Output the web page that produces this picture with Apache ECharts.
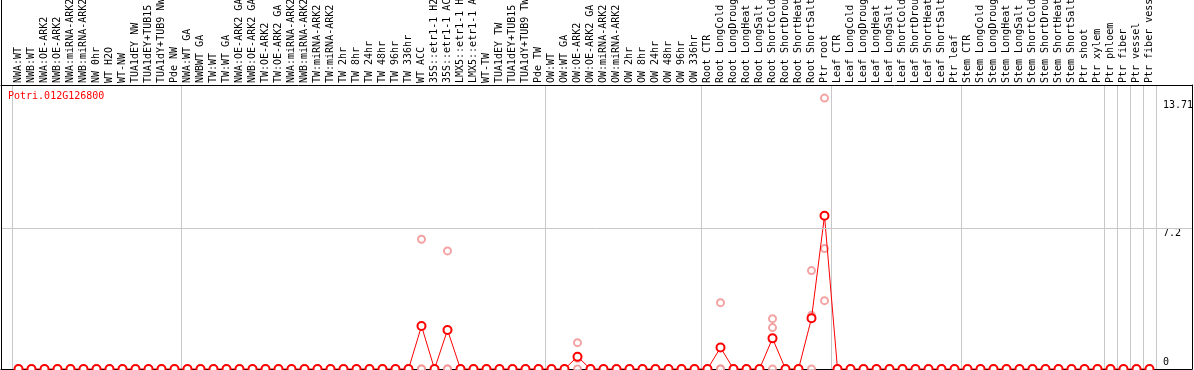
<!DOCTYPE html>
<html>
<head>
<meta charset="utf-8">
<script src="https://cdn.jsdelivr.net/npm/echarts@6/dist/echarts.min.js"></script>
<style>
html,body{margin:0;padding:0;background:#fff;}
#chart{width:1194px;height:370px;}
</style>
</head>
<body>
<div id="chart"></div>
<script>
const geneTitle = 'Potri.012G126800';

const categories = [
  'NWA:WT','NWB:WT','NWA:OE-ARK2','NWB:OE-ARK2','NWA:miRNA-ARK2','NWB:miRNA-ARK2','NW 0hr','WT H2O','WT-NW','TUA1dEY NW','TUA1dEY+TUB15 NW','TUA1dY+TUB9 NW','Pde NW',
  'NWA:WT GA','NWBWT GA','TW:WT','TW:WT GA','NWA:OE-ARK2 GA','NWB:OE-ARK2 GA','TW:OE-ARK2','TW:OE-ARK2 GA','NWA:miRNA-ARK2 GA','NWB:miRNA-ARK2 GA','TW:miRNA-ARK2','TW:miRNA-ARK2','TW 2hr','TW 8hr','TW 24hr','TW 48hr','TW 96hr','TW 336hr','WT ACC','35S::etr1-1 H2O','35S::etr1-1 ACC','LMX5::etr1-1 H2O','LMX5::etr1-1 ACC','WT-TW','TUA1dEY TW','TUA1dEY+TUB15 TW','TUA1dY+TUB9 TW','Pde TW',
  'OW:WT','OW:WT GA','OW:OE-ARK2','OW:OE-ARK2 GA','OW:miRNA-ARK2','OW:miRNA-ARK2','OW 2hr','OW 8hr','OW 24hr','OW 48hr','OW 96hr','OW 336hr',
  'Root CTR','Root LongCold','Root LongDrought','Root LongHeat','Root LongSalt','Root ShortCold','Root ShortDrought','Root ShortHeat','Root ShortSalt','Ptr root',
  'Leaf CTR','Leaf LongCold','Leaf LongDrought','Leaf LongHeat','Leaf LongSalt','Leaf ShortCold','Leaf ShortDrought','Leaf ShortHeat','Leaf ShortSalt','Ptr leaf',
  'Stem CTR','Stem LongCold','Stem LongDrought','Stem LongHeat','Stem LongSalt','Stem ShortCold','Stem ShortDrought','Stem ShortHeat','Stem ShortSalt','Ptr shoot','Ptr xylem',
  'Ptr phloem','Ptr fiber','Ptr vessel','Ptr fiber vessel'
];

// category index where each group starts (dividers)
const groupBoundaries = [0, 13, 41, 53, 63, 73, 84, 85, 86, 87];

const meanValues = [
  0,0,0,0,0,0,0,0,0,0,0,0,0,
  0,0,0,0,0,0,0,0,0,0, 0,0,0,0,0,0,0,0,2.2,0, 2.0,0,0,0,0,0,0,0,
  0,0,0.63,0,0,0,0,0,0,0,0,0,
  0,1.1,0,0,0,1.57,0,0,2.6,7.85,
  0,0,0,0,0,0,0,0,0,0,
  0,0,0,0,0,0,0,0,0,0,0,
  0,0,0,0
];
const rep1 = [
  0,0,0,0,0,0,0,0,0,0,0,0,0,
  0,0,0,0,0,0,0,0,0,0, 0,0,0,0,0,0,0,0,6.65,0, 6.05,0,0,0,0,0,0,0,
  0,0,1.35,0,0,0,0,0,0,0,0,0,
  0,3.4,0,0,0,2.58,0,0,5.04,13.88,
  0,0,0,0,0,0,0,0,0,0,
  0,0,0,0,0,0,0,0,0,0,0,
  0,0,0,0
];
const rep2 = [
  0,0,0,0,0,0,0,0,0,0,0,0,0,
  0,0,0,0,0,0,0,0,0,0, 0,0,0,0,0,0,0,0,0,0, 0,0,0,0,0,0,0,0,
  0,0,0.55,0,0,0,0,0,0,0,0,0,
  0,0,0,0,0,2.12,0,0,2.75,6.17,
  0,0,0,0,0,0,0,0,0,0,
  0,0,0,0,0,0,0,0,0,0,0,
  0,0,0,0
];
const rep3 = [
  0,0,0,0,0,0,0,0,0,0,0,0,0,
  0,0,0,0,0,0,0,0,0,0, 0,0,0,0,0,0,0,0,0,0, 0,0,0,0,0,0,0,0,
  0,0,0,0,0,0,0,0,0,0,0,0,
  0,0,0,0,0,0,0,0,0,3.5,
  0,0,0,0,0,0,0,0,0,0,
  0,0,0,0,0,0,0,0,0,0,0,
  0,0,0,0
];

const yTickValues = [0, 7.2, 13.71];
const yGridValue = 7.2;
const yMax = 14.55;

const FONT = 'DejaVu Sans Mono';
const dividerSet = new Set(groupBoundaries);
const dividerFn = function (idx) { return dividerSet.has(idx); };

const repData = [];
[rep1, rep2, rep3].forEach(function (arr) {
  arr.forEach(function (v, i) { repData.push([i, v]); });
});

const chart = echarts.init(document.getElementById('chart'), null, {renderer: 'canvas'});
chart.setOption({
  backgroundColor: '#ffffff',
  animation: false,
  title: {
    text: geneTitle, left: 8, top: 91, padding: 0,
    textStyle: {color: '#ff0000', fontSize: 10, fontFamily: FONT, fontWeight: 'normal'}
  },
  graphic: [
    {type: 'line', silent: true, z: 10,
     shape: {x1: 1.5, y1: 0, x2: 1.5, y2: 370},
     style: {stroke: '#000', lineWidth: 1}}
  ],
  grid: [
    {left: 1, right: 2, top: 85, bottom: 1, outerBoundsMode: 'none', containLabel: false},
    {left: 12, width: 1144, top: 85, bottom: 1, outerBoundsMode: 'none', containLabel: false}
  ],
  xAxis: [
    {gridIndex: 0, type: 'value', min: 0, max: 1, position: 'bottom',
     axisLine: {show: true, onZero: false, lineStyle: {color: '#000', width: 1}},
     axisTick: {show: false}, axisLabel: {show: false}, splitLine: {show: false}},
    {gridIndex: 1, type: 'category', position: 'top', data: categories, boundaryGap: true,
     axisLine: {show: false},
     axisTick: {show: true, interval: dividerFn, length: 85, inside: false, lineStyle: {color: '#c8c8c8', width: 1}},
     splitLine: {show: true, interval: dividerFn, lineStyle: {color: '#c8c8c8', width: 1}},
     axisLabel: {show: true, interval: 0, rotate: 90, margin: 2, color: '#000', fontSize: 10, fontFamily: FONT,
       hideOverlap: false}},
    {gridIndex: 0, type: 'value', min: 0, max: 1, position: 'top',
     axisLine: {show: true, onZero: false, lineStyle: {color: '#000', width: 1}},
     axisTick: {show: false}, axisLabel: {show: false}, splitLine: {show: false}}
  ],
  yAxis: [
    {gridIndex: 0, type: 'value', min: 0, max: yMax, position: 'right',
     axisLine: {show: true, onZero: false, lineStyle: {color: '#000', width: 1}},
     axisTick: {show: false, customValues: yTickValues},
     splitLine: {show: false},
     axisLabel: {show: true, inside: true, align: 'left', margin: 29, customValues: yTickValues,
       color: '#000', fontSize: 10, fontFamily: FONT,
       formatter: function (v) { return v === 0 ? '{b|0}' : '{t|' + v + '}'; },
       rich: {
         t: {padding: [9, 0, 0, 0], fontSize: 10, fontFamily: FONT, color: '#000'},
         b: {padding: [0, 0, 14, 0], fontSize: 10, fontFamily: FONT, color: '#000'}
       }}},
    {gridIndex: 0, type: 'value', min: 0, max: yMax, position: 'left',
     axisLine: {show: true, onZero: false, lineStyle: {color: '#000', width: 1}},
     axisTick: {show: false}, axisLabel: {show: false}, splitLine: {show: false}},
    {gridIndex: 1, type: 'value', min: 0, max: yMax, show: false}
  ],
  series: [
    {type: 'line', xAxisIndex: 0, yAxisIndex: 0, data: [], silent: true,
     markLine: {silent: true, symbol: ['none', 'none'], label: {show: false},
       lineStyle: {color: '#c8c8c8', type: 'solid', width: 1}, data: [{yAxis: yGridValue}]}},
    {name: 'replicates', type: 'scatter', xAxisIndex: 1, yAxisIndex: 2, data: repData,
     symbol: 'emptyCircle', symbolSize: 7, z: 3,
     itemStyle: {color: '#f08c8c', borderColor: '#f08c8c', borderWidth: 1}},
    {name: 'mean', type: 'line', xAxisIndex: 1, yAxisIndex: 2, data: meanValues,
     symbol: 'emptyCircle', symbolSize: 8, showAllSymbol: true, z: 4,
     lineStyle: {color: '#ff0000', width: 1},
     itemStyle: {color: '#ff0000', borderColor: '#ff0000', borderWidth: 1.5}}
  ]
});
</script>
</body>
</html>
